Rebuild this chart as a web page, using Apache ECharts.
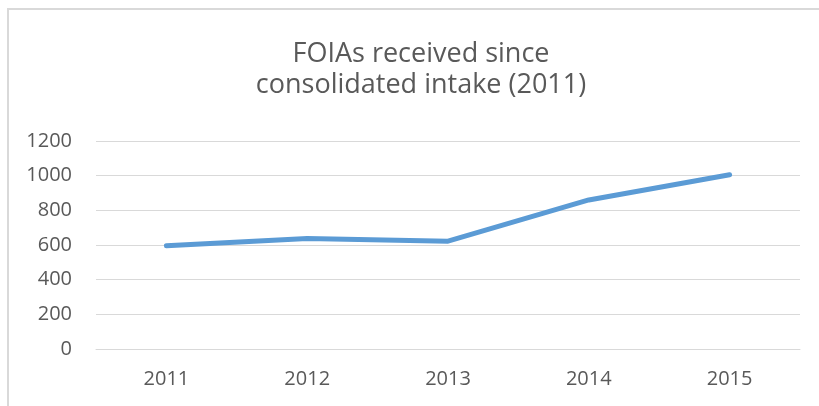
<!DOCTYPE html>
<html>
<head>
<meta charset="utf-8">
<script src="https://cdn.jsdelivr.net/npm/echarts@6/dist/echarts.min.js"></script>
<style>
  html, body { margin: 0; padding: 0; background: #fff; }
  #frame {
    position: absolute; left: 7px; top: 8px; width: 900px; height: 500px;
    border-left: 2px solid #d9d9d9; border-top: 2px solid #d9d9d9;
  }
  #chart { position: absolute; left: 0; top: 0; width: 819px; height: 406px; }
</style>
</head>
<body>
<div id="frame"></div>
<div id="chart"></div>
<script>
// data
const years = ['2011', '2012', '2013', '2014', '2015']
const foias = [595, 637, 622, 860, 1005]

const chart = echarts.init(document.getElementById('chart'))
chart.setOption({
  animation: false,
  title: {
    text: 'FOIAs received since\nconsolidated intake (2011)',
    left: 416,
    top: 34,
    textAlign: 'center',
    textStyle: {
      fontFamily: 'Open Sans',
      fontSize: 27,
      fontWeight: 'normal',
      color: '#595959',
      lineHeight: 31
    }
  },
  grid: { left: 96, right: 19, top: 141, bottom: 57 },
  xAxis: {
    type: 'category',
    data: years,
    boundaryGap: true,
    axisTick: { show: false },
    axisLine: { lineStyle: { color: '#d9d9d9', width: 1 } },
    axisLabel: { fontFamily: 'Open Sans', fontSize: 20, color: '#595959', margin: 20 }
  },
  yAxis: {
    type: 'value',
    min: 0,
    max: 1200,
    interval: 200,
    axisLine: { show: false },
    axisTick: { show: false },
    splitLine: { lineStyle: { color: '#d9d9d9', width: 1 } },
    axisLabel: {
      fontFamily: 'Open Sans', fontSize: 20, color: '#595959', margin: 24,
      formatter: v => String(v)
    }
  },
  series: [
    {
      type: 'line',
      data: foias,
      showSymbol: false,
      lineStyle: { color: '#5b9bd5', width: 5, cap: 'round', join: 'round' },
      itemStyle: { color: '#5b9bd5' }
    }
  ]
})
</script>
</body>
</html>
